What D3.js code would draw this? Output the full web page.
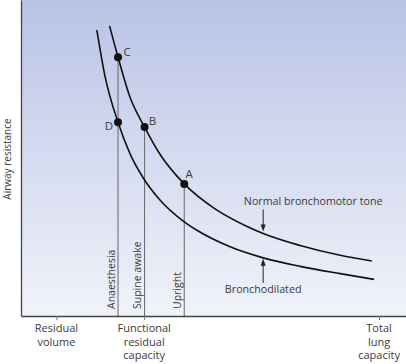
<!DOCTYPE html>
<html>
<head>
<meta charset="utf-8">
<script src="https://cdn.jsdelivr.net/npm/d3@7"></script>
<style>
  body { margin: 0; background: #fff; }
  svg { display: block; }
  text { font-family: 'Open Sans', sans-serif; fill: #3a3a3a; }
</style>
</head>
<body>
<div id="vis"></div>
<script>
// lung volume (arbitrary units, 0-100) vs airway resistance (arbitrary units, 0-100)
const volumeTicks = [9.2, 32.0, 93.0];
const volumeTickLabels = [
    ['Residual', 'volume'],
    ['Functional', 'residual', 'capacity'],
    ['Total', 'lung', 'capacity']
];

const normalTone = [
    [23.0, 91.8], [25.2, 81.9], [28.3, 69.3], [32.1, 59.8], [36.1, 51.2], [42.4, 41.8],
    [50.4, 33.9], [58.6, 28.4], [62.9, 26.1], [72.5, 22.3], [82.9, 19.2], [91.1, 17.4]
];
const bronchodilated = [
    [19.7, 90.5], [21.8, 76.0], [25.2, 61.3], [28.3, 51.4], [31.8, 43.6], [36.1, 36.7],
    [42.4, 29.8], [45.6, 27.2], [54.3, 21.9], [62.9, 18.4], [72.5, 15.7], [82.9, 13.4], [91.7, 11.6]
];

const postures = ['Anaesthesia', 'Supine awake', 'Upright'];
const postureVolume = [25.2, 32.1, 42.4];

const pointLabels = ['A', 'B', 'C', 'D'];
const pointVolume = [42.4, 32.1, 25.2, 25.2];
const pointResistance = [41.8, 59.8, 81.9, 61.3];

const arrowVolume = 62.9;

const width = 406;
const height = 364;
const margin = { top: 0, right: 0, bottom: 48, left: 21 };

const x = d3.scaleLinear()
    .domain([0, 100])
    .range([margin.left, width - margin.right]);

const y = d3.scaleLinear()
    .domain([0, 100])
    .range([height - margin.bottom, margin.top]);

const svg = d3.select('#vis')
    .append('svg')
    .attr('width', width)
    .attr('height', height);

const grad = svg.append('defs')
    .append('linearGradient')
    .attr('id', 'bg')
    .attr('x1', 0).attr('y1', 0)
    .attr('x2', 0).attr('y2', 1);
grad.append('stop').attr('offset', '0%').attr('stop-color', '#b9c3e5');
grad.append('stop').attr('offset', '100%').attr('stop-color', '#f1f3fa');

svg.append('rect')
    .attr('x', x(0))
    .attr('y', y(100))
    .attr('width', x(100) - x(0))
    .attr('height', y(0) - y(100))
    .attr('fill', 'url(#bg)');

// posture lines down to the volume axis
const postureTop = postureVolume.map(v =>
    d3.max(pointVolume.map((pv, i) => pv === v ? pointResistance[i] : 0)));

svg.selectAll('.posture-line')
    .data(postureVolume)
    .join('line')
    .attr('class', 'posture-line')
    .attr('x1', d => x(d))
    .attr('x2', d => x(d))
    .attr('y1', (d, i) => y(postureTop[i]))
    .attr('y2', y(0))
    .attr('stroke', '#666')
    .attr('stroke-width', 1);

svg.selectAll('.posture-label')
    .data(postures)
    .join('text')
    .attr('class', 'posture-label')
    .attr('transform', (d, i) => `translate(${x(postureVolume[i]) - 3.5}, ${y(0) - 7}) rotate(-90)`)
    .attr('font-size', '10.5px')
    .text(d => d);

// curves
const line = d3.line()
    .x(d => x(d[0]))
    .y(d => y(d[1]))
    .curve(d3.curveMonotoneX);

svg.selectAll('.curve')
    .data([normalTone, bronchodilated])
    .join('path')
    .attr('class', 'curve')
    .attr('d', line)
    .attr('fill', 'none')
    .attr('stroke', '#111')
    .attr('stroke-width', 1.6);

// axes
svg.append('g')
    .attr('transform', `translate(0, ${y(0)})`)
    .call(d3.axisBottom(x).tickValues(volumeTicks).tickFormat('').tickSize(4).tickSizeOuter(0))
    .call(g => g.select('.domain').attr('stroke', '#444').attr('stroke-width', 1.3))
    .call(g => g.selectAll('.tick line').attr('stroke', '#777'));

svg.append('g')
    .attr('transform', `translate(${x(0)}, 0)`)
    .call(d3.axisLeft(y).tickValues([]).tickSizeOuter(0))
    .call(g => g.select('.domain').attr('stroke', '#444').attr('stroke-width', 1.3));

const tickText = svg.selectAll('.tick-label')
    .data(volumeTicks)
    .join('text')
    .attr('class', 'tick-label')
    .attr('text-anchor', 'middle')
    .attr('font-size', '11px');

tickText.selectAll('tspan')
    .data((d, i) => volumeTickLabels[i].map(s => ({ s, v: d })))
    .join('tspan')
    .attr('x', d => x(d.v))
    .attr('y', (d, i) => y(0) + 16 + i * 13.7)
    .text(d => d.s);

svg.append('text')
    .attr('transform', `translate(10.5, ${y(100) + 159}) rotate(-90)`)
    .attr('text-anchor', 'middle')
    .attr('font-size', '10px')
    .text('Airway resistance');

// marked points
const labelOffset = { A: [5, -6], B: [8, -2], C: [9, -1], D: [-9, 8] };

svg.selectAll('.point')
    .data(pointLabels)
    .join('circle')
    .attr('class', 'point')
    .attr('cx', (d, i) => x(pointVolume[i]))
    .attr('cy', (d, i) => y(pointResistance[i]))
    .attr('r', 4)
    .attr('fill', '#111');

svg.selectAll('.point-label')
    .data(pointLabels)
    .join('text')
    .attr('class', 'point-label')
    .attr('text-anchor', 'middle')
    .attr('font-size', '11.5px')
    .attr('fill', '#555')
    .attr('x', (d, i) => x(pointVolume[i]) + labelOffset[d][0])
    .attr('y', (d, i) => y(pointResistance[i]) + labelOffset[d][1])
    .text(d => d);

// annotation arrows
function arrow(tailY, tipY) {
    const px = x(arrowVolume);
    const dir = tipY > tailY ? 1 : -1;
    svg.append('line')
        .attr('x1', px).attr('x2', px)
        .attr('y1', tailY).attr('y2', tipY - dir * 5)
        .attr('stroke', '#222')
        .attr('stroke-width', 1);
    svg.append('path')
        .attr('d', `M${px},${tipY} L${px - 2.5},${tipY - dir * 7} L${px + 2.5},${tipY - dir * 7} Z`)
        .attr('fill', '#222');
}

const normalAt = normalTone.find(d => d[0] === arrowVolume)[1];
const dilatedAt = bronchodilated.find(d => d[0] === arrowVolume)[1];

arrow(y(normalAt) - 24, y(normalAt) - 2);
arrow(y(dilatedAt) + 25, y(dilatedAt) + 1);

svg.append('text')
    .attr('x', x(arrowVolume) + 50)
    .attr('y', y(normalAt) - 29)
    .attr('text-anchor', 'middle')
    .attr('font-size', '10.7px')
    .text('Normal bronchomotor tone');

svg.append('text')
    .attr('x', x(arrowVolume))
    .attr('y', y(dilatedAt) + 35)
    .attr('text-anchor', 'middle')
    .attr('font-size', '10.7px')
    .text('Bronchodilated');
</script>
</body>
</html>
